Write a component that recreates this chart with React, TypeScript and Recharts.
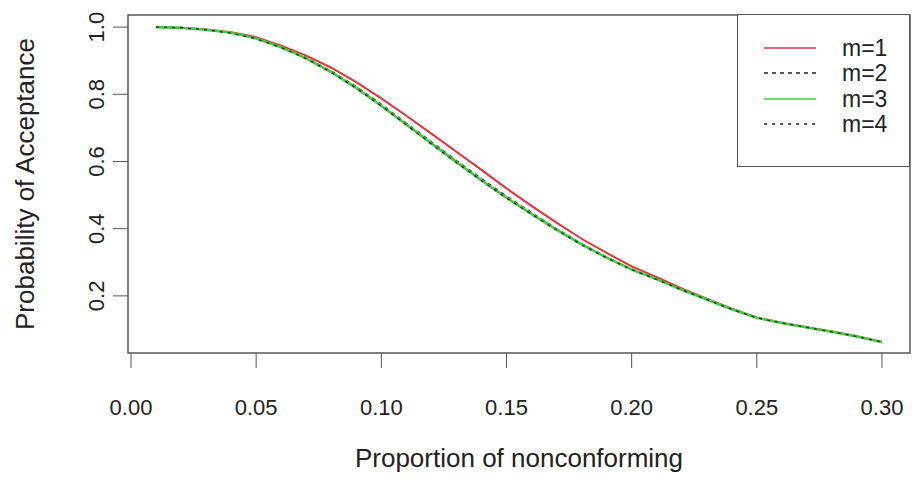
import React from 'react';
import { LineChart, Line, XAxis, YAxis, ReferenceArea, Legend, Label } from 'recharts';

const pValues = [0.01, 0.02, 0.03, 0.04, 0.05, 0.06, 0.07, 0.08, 0.09, 0.10, 0.11, 0.12, 0.13, 0.14, 0.15, 0.16, 0.17, 0.18, 0.19, 0.20, 0.21, 0.22, 0.23, 0.24, 0.25, 0.26, 0.27, 0.28, 0.29, 0.30];
const m1 = [1.000, 0.998, 0.993, 0.985, 0.970, 0.945, 0.915, 0.879, 0.836, 0.788, 0.736, 0.683, 0.629, 0.575, 0.520, 0.468, 0.418, 0.370, 0.328, 0.288, 0.256, 0.222, 0.192, 0.162, 0.135, 0.120, 0.107, 0.094, 0.080, 0.063];
const m2 = [1.000, 0.998, 0.992, 0.983, 0.967, 0.941, 0.909, 0.869, 0.823, 0.770, 0.714, 0.659, 0.603, 0.549, 0.497, 0.448, 0.400, 0.356, 0.316, 0.280, 0.250, 0.219, 0.190, 0.161, 0.135, 0.119, 0.106, 0.093, 0.079, 0.063];
const m3 = [1.000, 0.998, 0.992, 0.983, 0.966, 0.940, 0.907, 0.866, 0.819, 0.766, 0.710, 0.654, 0.598, 0.544, 0.492, 0.444, 0.397, 0.353, 0.314, 0.279, 0.249, 0.218, 0.189, 0.160, 0.135, 0.119, 0.106, 0.093, 0.079, 0.063];
const m4 = [1.000, 0.998, 0.992, 0.982, 0.965, 0.939, 0.906, 0.865, 0.818, 0.765, 0.709, 0.652, 0.597, 0.543, 0.491, 0.443, 0.396, 0.352, 0.313, 0.278, 0.249, 0.218, 0.189, 0.160, 0.135, 0.119, 0.106, 0.093, 0.079, 0.063];

const xTicks = [0, 0.05, 0.10, 0.15, 0.20, 0.25, 0.30];
const yTicks = [0.2, 0.4, 0.6, 0.8, 1.0];
const seriesNames = ['m=1', 'm=2', 'm=3', 'm=4'];
const xTitle = 'Proportion of nonconforming';
const yTitle = 'Probability of Acceptance';

const X_DOMAIN: [number, number] = [-0.0012, 0.3112];
const Y_DOMAIN: [number, number] = [0.03, 1.036];

const FONT = '"Liberation Sans", Arial, sans-serif';
const FS_TICK = 22;
const FS_TITLE = 26;
const FS_LEG = 23;
const TXT = '#222';
const AX = '#555';

const series = [
  { key: 'm1', name: seriesNames[0], color: '#e8323a', dash: undefined as string | undefined, w: 2 },
  { key: 'm2', name: seriesNames[1], color: '#222', dash: '4 4', w: 1.3 },
  { key: 'm3', name: seriesNames[2], color: '#3ccf3c', dash: undefined, w: 2.6 },
  { key: 'm4', name: seriesNames[3], color: '#222', dash: '3 5', w: 1.3 },
];

const data = pValues.map((p, i) => ({ p, m1: m1[i], m2: m2[i], m3: m3[i], m4: m4[i] }));

const YTick = (props: any) => {
  const { x, y, payload } = props;
  return (
    <text x={x} y={y} transform={`rotate(-90, ${x}, ${y})`} textAnchor="middle" dominantBaseline="central"
      fontSize={FS_TICK} fill={TXT} fontFamily={FONT}>
      {Number(payload.value).toFixed(1)}
    </text>
  );
};

const XTick = (props: any) => {
  const { x, y, payload } = props;
  return (
    <text x={x} y={y} textAnchor="middle" dominantBaseline="central" fontSize={FS_TICK} fill={TXT} fontFamily={FONT}>
      {Number(payload.value).toFixed(2)}
    </text>
  );
};

const renderLegend = () => (
  <div style={{ width: 173, height: 153, boxSizing: 'border-box', border: `1px solid ${AX}`, background: '#fff', position: 'relative', fontFamily: FONT }}>
    {series.map((s, i) => (
      <div key={s.key} style={{ position: 'absolute', left: 0, top: 20 + i * 25.3, height: 26, width: 171 }}>
        <svg width={60} height={26} style={{ position: 'absolute', left: 24, top: 0 }}>
          <line x1={2} x2={54} y1={13} y2={13} stroke={s.color} strokeWidth={1.5} strokeDasharray={s.dash} />
        </svg>
        <span style={{ position: 'absolute', left: 104, top: 0, lineHeight: '26px', fontSize: FS_LEG, color: TXT }}>{s.name}</span>
      </div>
    ))}
  </div>
);

export default function App() {
  return (
    <div style={{ position: 'absolute', left: 0, top: 0, width: 912, height: 477, background: '#fff' }}>
      <LineChart width={912} height={477} data={data} margin={{ top: 15, right: 2, bottom: 4, left: 0 }}>
        <XAxis dataKey="p" type="number" domain={X_DOMAIN} allowDataOverflow ticks={xTicks}
          tick={<XTick />} tickSize={15} tickMargin={39} axisLine={false} stroke={AX} height={120} interval={0}>
          <Label content={(props: any) => {
            const vb = props.viewBox;
            return (
              <text x={vb.x + vb.width / 2} y={458} textAnchor="middle" dominantBaseline="central"
                fontSize={FS_TITLE} fill={TXT} fontFamily={FONT}>{xTitle}</text>
            );
          }} />
        </XAxis>
        <YAxis type="number" domain={Y_DOMAIN} allowDataOverflow ticks={yTicks} tick={<YTick />}
          tickSize={15} tickMargin={16} axisLine={false} stroke={AX} width={128} interval={0}>
          <Label content={(props: any) => {
            const vb = props.viewBox;
            const cx = 25;
            const cy = vb.y + vb.height / 2;
            return (
              <text x={cx} y={cy} transform={`rotate(-90, ${cx}, ${cy})`} textAnchor="middle" dominantBaseline="central"
                fontSize={FS_TITLE} fill={TXT} fontFamily={FONT}>{yTitle}</text>
            );
          }} />
        </YAxis>
        <ReferenceArea x1={X_DOMAIN[0]} x2={X_DOMAIN[1]} y1={Y_DOMAIN[0]} y2={Y_DOMAIN[1]} fill="none" stroke={AX} strokeWidth={1.5} />
        {series.map((s) => (
          <Line key={s.key} dataKey={s.key} name={s.name} type="linear" stroke={s.color} strokeWidth={s.w}
            strokeDasharray={s.dash} dot={false} isAnimationActive={false} />
        ))}
        <Legend layout="horizontal" verticalAlign="middle" align="center" content={renderLegend}
          wrapperStyle={{ position: 'absolute', left: 737, top: 14, width: 173, height: 153, margin: 0 }} />
      </LineChart>
    </div>
  );
}
